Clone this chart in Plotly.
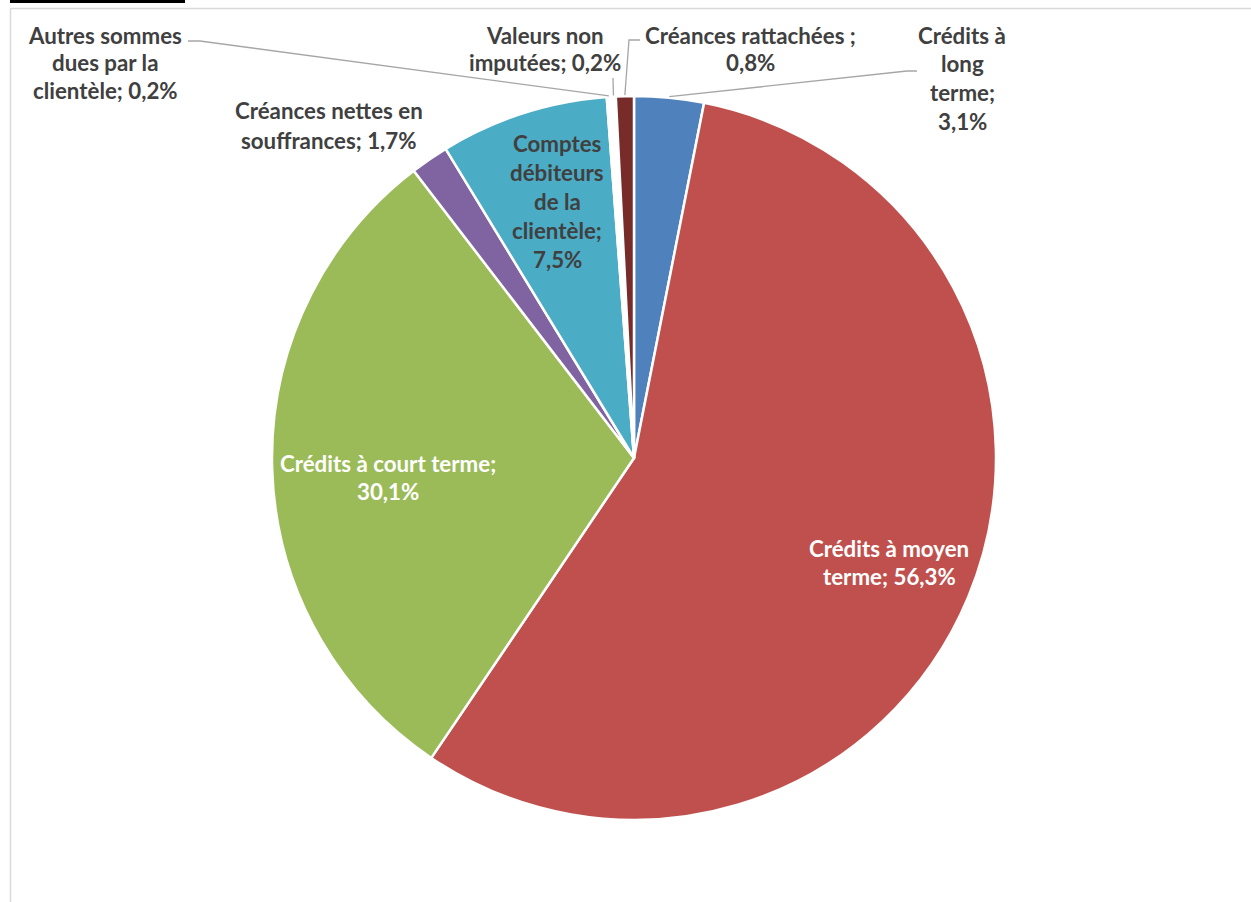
import math
import plotly.graph_objects as go

# ---------------- data ----------------
categories = [
    "Crédits à long terme",
    "Crédits à moyen terme",
    "Crédits à court terme",
    "Créances nettes en souffrances",
    "Comptes débiteurs de la clientèle",
    "Autres sommes dues par la clientèle",
    "Valeurs non imputées",
    "Créances rattachées",
]
values = [3.1, 56.3, 30.1, 1.7, 7.5, 0.2, 0.2, 0.8]
pct_text = ["3,1%", "56,3%", "30,1%", "1,7%", "7,5%", "0,2%", "0,2%", "0,8%"]
label_lines = [
    ["Crédits à", "long", "terme;", "3,1%"],
    ["Crédits à moyen", "terme; 56,3%"],
    ["Crédits à court terme;", "30,1%"],
    ["Créances nettes en", "souffrances; 1,7%"],
    ["Comptes", "débiteurs", "de la", "clientèle;", "7,5%"],
    ["Autres sommes", "dues par la", "clientèle; 0,2%"],
    ["Valeurs non", "imputées; 0,2%"],
    ["Créances rattachées ;", "0,8%"],
]

# ---------------- styles / layout ----------------
W, H = 1251, 902
colors = ["#4F81BD", "#C0504D", "#9BBB59", "#8064A2", "#4BACC6",
          "#FFFFFF", "#FFFFFF", "#772C2A"]
text_colors = ["#404040", "#FFFFFF", "#FFFFFF", "#404040", "#404040",
               "#404040", "#404040", "#404040"]
CX, CY, R = 634, 458, 362
# label anchor: (center x, first line y) in pixels
label_pos = [(962, 35), (889, 548), (388, 463), (329, 111),
             (557, 143), (105, 35), (545, 35), (750, 35)]
line_gap = [28.7, 28, 28, 29, 29, 28, 28, 28]
# leader-line elbows (pixel points before reaching slice edge)
leaders = {
    0: [(917, 71), (907, 71)],
    5: [(188, 41), (200, 41)],
    6: [(613, 78)],
    7: [(640, 40), (629, 40)],
}

FONT = "Lato"
FSIZE = 22.3


def px(x):
    return x / W


def py(y):
    return 1 - y / H


fig = go.Figure()
fig.add_trace(go.Pie(
    labels=categories,
    values=values,
    sort=False,
    direction="clockwise",
    rotation=0,
    textinfo="none",
    marker=dict(colors=colors, line=dict(color="white", width=2.5)),
    domain=dict(x=[px(CX - R), px(CX + R)], y=[py(CY + R), py(CY - R)]),
    showlegend=False,
    hovertemplate="%{label}: %{value}%<extra></extra>",
))

annotations = []
for i, lines in enumerate(label_lines):
    x0, y0 = label_pos[i]
    for k, t in enumerate(lines):
        annotations.append(dict(
            x=px(x0), y=py(y0 + k * line_gap[i]), xref="paper", yref="paper",
            text=t, showarrow=False, xanchor="center", yanchor="middle",
            font=dict(family=FONT, size=FSIZE, color=text_colors[i], weight="bold"),
        ))

shapes = []
total = sum(values)
cum = 0.0
for i, v in enumerate(values):
    mid = (cum + v / 2) / total * 2 * math.pi
    cum += v
    if i in leaders:
        ex = CX + (R + 1) * math.sin(mid)
        ey = CY - (R + 1) * math.cos(mid)
        pts = leaders[i] + [(ex, ey)]
        path = "M " + " L ".join(f"{px(a)},{py(b)}" for a, b in pts)
        shapes.append(dict(type="path", path=path, xref="paper", yref="paper",
                           line=dict(color="#A6A6A6", width=1.3)))

# chart frame and cropped document fragment
shapes.append(dict(type="line", xref="paper", yref="paper",
                   x0=px(10), x1=1, y0=py(8.5), y1=py(8.5),
                   line=dict(color="#D9D9D9", width=1.5)))
shapes.append(dict(type="line", xref="paper", yref="paper",
                   x0=px(10.5), x1=px(10.5), y0=py(8.5), y1=0,
                   line=dict(color="#D9D9D9", width=1.5)))
shapes.append(dict(type="rect", xref="paper", yref="paper",
                   x0=px(10), x1=px(185), y0=py(3), y1=1,
                   fillcolor="black", line=dict(width=0)))

fig.update_layout(
    width=W, height=H,
    margin=dict(l=0, r=0, t=0, b=0),
    paper_bgcolor="white", plot_bgcolor="white",
    annotations=annotations, shapes=shapes,
    font=dict(family=FONT),
)

fig.write_html("out.html",
               config={"displayModeBar": False},
               post_script="document.body.style.margin='0';document.body.style.padding='0';")
